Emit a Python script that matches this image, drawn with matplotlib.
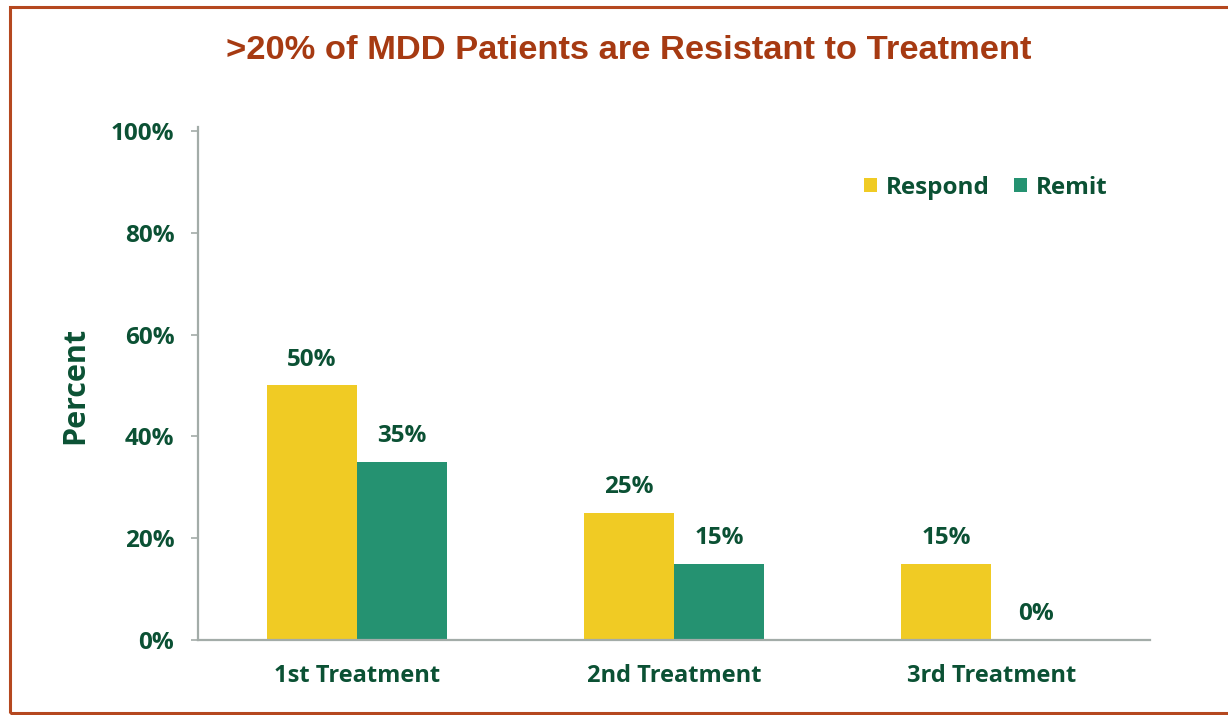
import matplotlib.pyplot as plt
from matplotlib.patches import Rectangle
import numpy as np

categories = ["1st Treatment", "2nd Treatment", "3rd Treatment"]
respond = [50, 25, 15]
remit = [35, 15, 0]
y_ticks = [0, 20, 40, 60, 80, 100]

TEXT_GREEN = "#0b5134"
YELLOW = "#f0cb24"
GREEN = "#259271"
TITLE_RED = "#a63a12"
AXIS_GRAY = "#a3aca8"

plt.rcParams["font.family"] = ["Open Sans", "DejaVu Sans"]

fig = plt.figure(figsize=(12.28, 7.15), dpi=100)
ax = fig.add_axes([0.1612, 0.1049, 0.7753, 0.7119])

x = np.arange(len(categories)) + 0.5
w = 0.284
b1 = ax.bar(x - w / 2, respond, w, color=YELLOW, label="Respond")
b2 = ax.bar(x + w / 2, remit, w, color=GREEN, label="Remit")

for bars, vals in ((b1, respond), (b2, remit)):
    for bar, v in zip(bars, vals):
        ax.annotate(f"{v}%", (bar.get_x() + bar.get_width() / 2, v),
                    xytext=(0, 10), textcoords="offset points",
                    ha="center", va="bottom", fontsize=17.5, fontweight="bold",
                    color=TEXT_GREEN)

ax.set_xlim(0, 3)
ax.set_ylim(0, 100)
ax.set_xticks(x)
ax.set_xticklabels(categories)
ax.set_yticks(y_ticks)
ax.set_yticklabels([f"{t}%" for t in y_ticks])
ax.tick_params(axis="x", length=0, pad=17, labelsize=17, labelcolor=TEXT_GREEN)
ax.tick_params(axis="y", length=5, width=1.2, color=AXIS_GRAY, pad=12,
               labelsize=17.5, labelcolor=TEXT_GREEN)
for lab in ax.get_xticklabels() + ax.get_yticklabels():
    lab.set_fontweight("bold")

for side in ("top", "right"):
    ax.spines[side].set_visible(False)
for side in ("left", "bottom"):
    ax.spines[side].set_color(AXIS_GRAY)
    ax.spines[side].set_linewidth(1.6)
ax.spines["left"].set_bounds(0, 100.8)

ax.set_ylabel("Percent", fontsize=22, fontweight="bold", color=TEXT_GREEN, labelpad=15)

leg = ax.legend(loc="upper right", bbox_to_anchor=(0.978, 0.955), ncol=2, frameon=False,
                handlelength=0.55, handleheight=0.55, handletextpad=0.35, columnspacing=1.0,
                prop={"size": 17.5, "weight": "bold"})
for t in leg.get_texts():
    t.set_color(TEXT_GREEN)

fig.text(0.512, 0.929, ">20% of MDD Patients are Resistant to Treatment",
         ha="center", va="center", fontsize=24.8, fontweight="bold", color=TITLE_RED,
         family=["Liberation Sans Narrow", "Liberation Sans", "DejaVu Sans"])

fig.patches.append(Rectangle((10 / 1228, 2 / 715), 1.2, 706 / 715, transform=fig.transFigure,
                             fill=False, edgecolor="#b5481f", linewidth=2.2))

fig.savefig("out.png", dpi=100)
